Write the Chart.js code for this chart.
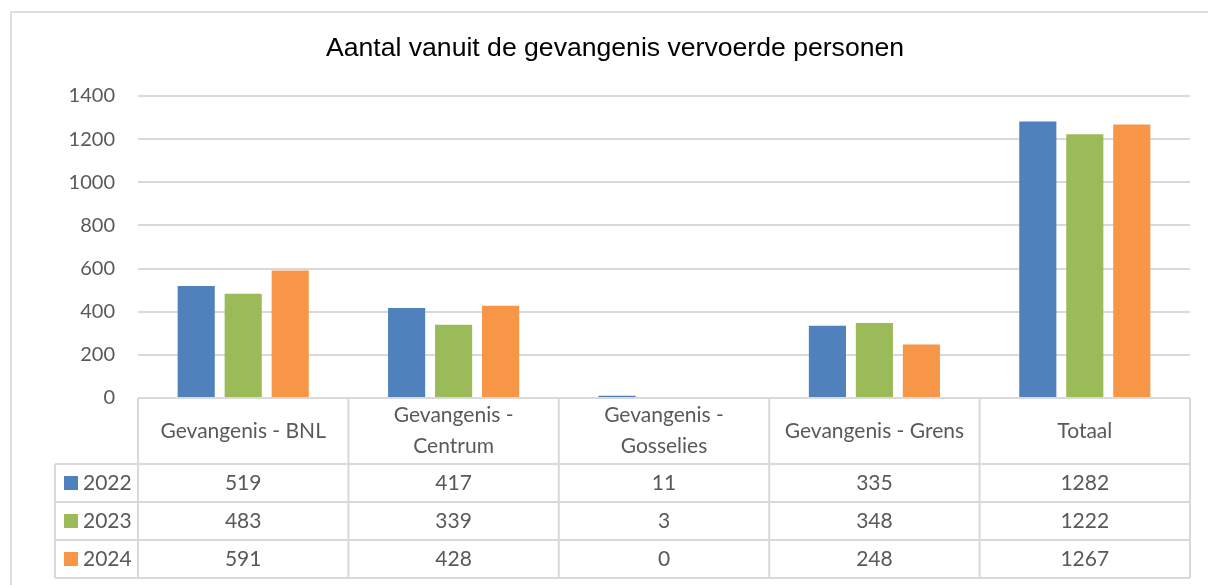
<!DOCTYPE html>
<html>
<head>
<meta charset="utf-8">
<script src="https://cdn.jsdelivr.net/npm/chart.js@4/dist/chart.umd.min.js"></script>
<style>
    body { margin: 0; background: #fff; overflow: hidden; }
    #frame { position: absolute; left: 10px; top: 11px; width: 1300px; height: 700px; border: 2px solid #dedede; box-sizing: border-box; }
    #wrap { position: absolute; left: 0; top: 0; width: 1208px; height: 585px; }
</style>
</head>
<body>
<div id="frame"></div>
<div id="wrap"><canvas id="chart" width="1208" height="585"></canvas></div>
<script>
const categories = [
    ["Gevangenis - BNL"],
    ["Gevangenis -", "Centrum"],
    ["Gevangenis -", "Gosselies"],
    ["Gevangenis - Grens"],
    ["Totaal"]
];
const years = ["2022", "2023", "2024"];
const values2022 = [519, 417, 11, 335, 1282];
const values2023 = [483, 339, 3, 348, 1222];
const values2024 = [591, 428, 0, 248, 1267];
const yTicks = [0, 200, 400, 600, 800, 1000, 1200, 1400];

const colors = ["#4f81bd", "#9bbb59", "#f79646"];
const textColor = "#595959";
const lineColor = "#d9d9d9";

// tabel onder de grafiek (zoals in Excel)
const dataTable = {
    id: "dataTable",
    afterDraw(chart) {
        const ctx = chart.ctx;
        const x = chart.scales.x;
        const area = chart.chartArea;
        const colW = (area.right - area.left) / categories.length;
        const top = area.bottom;
        const headerH = 66;
        const rowH = 38;
        const legendLeft = 55;
        const rows = [values2022, values2023, values2024];
        const bottom = top + headerH + rowH * rows.length;

        ctx.save();
        ctx.strokeStyle = lineColor;
        ctx.lineWidth = 2;
        ctx.beginPath();
        // horizontale lijnen
        ctx.moveTo(area.left, top); ctx.lineTo(area.right, top);
        for (let r = 0; r <= rows.length; r++) {
            let y = top + headerH + r * rowH;
            ctx.moveTo(legendLeft, y); ctx.lineTo(area.right, y);
        }
        // verticale lijnen
        ctx.moveTo(legendLeft, top + headerH); ctx.lineTo(legendLeft, bottom);
        for (let c = 0; c <= categories.length; c++) {
            let px = area.left + c * colW;
            ctx.moveTo(px, top); ctx.lineTo(px, bottom);
        }
        ctx.stroke();

        ctx.fillStyle = textColor;
        ctx.font = "21px Lato";
        ctx.textAlign = "center";
        ctx.textBaseline = "middle";

        categories.forEach((lines, i) => {
            let cx = x.getPixelForValue(i);
            let cy = top + headerH / 2;
            let lh = 31;
            lines.forEach((line, k) => {
                ctx.fillText(line, cx, cy + (k - (lines.length - 1) / 2) * lh);
            });
        });

        rows.forEach((vals, r) => {
            let cy = top + headerH + r * rowH + rowH / 2;
            vals.forEach((v, i) => {
                ctx.fillText(String(v), x.getPixelForValue(i), cy);
            });
            ctx.fillStyle = colors[r];
            ctx.fillRect(64, cy - 7, 14, 14);
            ctx.fillStyle = textColor;
            ctx.textAlign = "left";
            ctx.fillText(years[r], 83, cy);
            ctx.textAlign = "center";
        });
        ctx.restore();
    }
};

new Chart(document.getElementById("chart"), {
    type: "bar",
    data: {
        labels: categories.map(c => c.join(" ")),
        datasets: [
            { label: years[0], data: values2022, backgroundColor: colors[0] },
            { label: years[1], data: values2023, backgroundColor: colors[1] },
            { label: years[2], data: values2024, backgroundColor: colors[2] }
        ]
    },
    options: {
        responsive: false,
        animation: false,
        devicePixelRatio: 1,
        layout: { padding: { left: 40, right: 18, top: 0, bottom: 187 } },
        datasets: {
            bar: { categoryPercentage: 0.67, barPercentage: 0.79 }
        },
        plugins: {
            legend: { display: false },
            tooltip: { enabled: false },
            title: {
                display: true,
                text: "Aantal vanuit de gevangenis vervoerde personen",
                color: "#000",
                font: { family: "Liberation Sans", size: 26.6, weight: "normal" },
                padding: { top: 33, bottom: 31 }
            }
        },
        scales: {
            x: { display: false },
            y: {
                min: 0,
                max: 1400,
                afterBuildTicks: (scale) => { scale.ticks = yTicks.map(v => ({ value: v })); },
                afterFit: (scale) => { scale.width = 98; },
                border: { display: false },
                grid: { color: lineColor, lineWidth: 2, drawTicks: false },
                ticks: {
                    color: textColor,
                    padding: 23,
                    font: { family: "Lato", size: 20 },
                    callback: (v) => String(v)
                }
            }
        }
    },
    plugins: [dataTable]
});
</script>
</body>
</html>
